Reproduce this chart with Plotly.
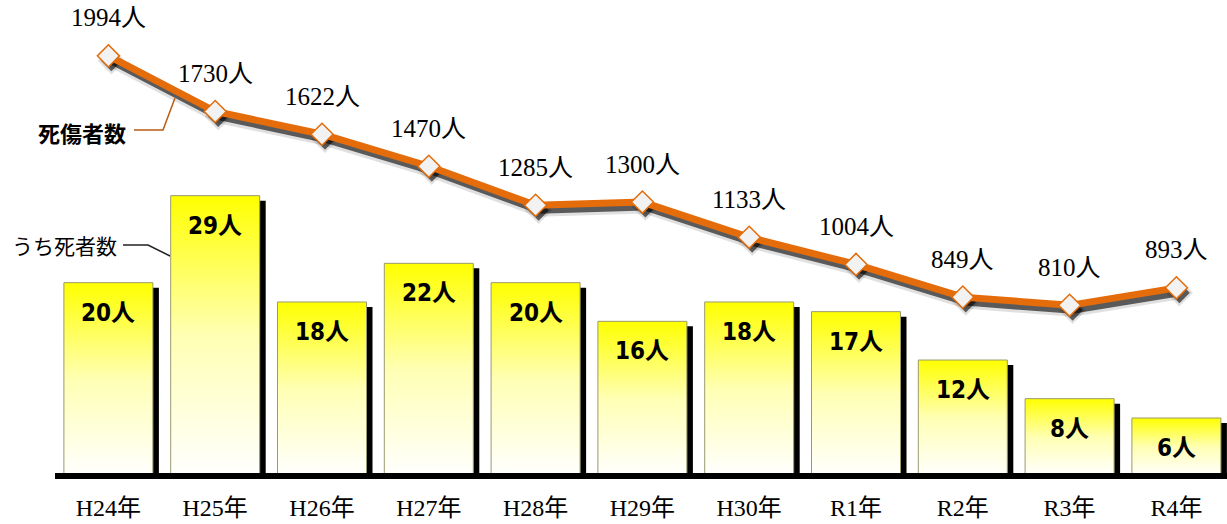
import plotly.graph_objects as go

# Data
years = ["H24年", "H25年", "H26年", "H27年", "H28年", "H29年", "H30年", "R1年", "R2年", "R3年", "R4年"]
casualties = [1994, 1730, 1622, 1470, 1285, 1300, 1133, 1004, 849, 810, 893]
deaths = [20, 29, 18, 22, 20, 16, 18, 17, 12, 8, 6]

# Layout geometry (pixels)
W, H = 1227, 524
M_L, M_R, M_T, M_B = 55, 0, 0, 51
PLOT_W = W - M_L - M_R
PLOT_H = H - M_T - M_B
BASE_DROP = 3          # baseline sits this many px below the plot bottom (under the axis line)
PX_PER_DEATH = 9.667   # primary axis scale
PX_PER_CAS = 0.2107    # secondary axis scale
PX_PER_CAT = 106.8

x_idx = list(range(len(years)))
x_range = [-0.5, -0.5 + PLOT_W / PX_PER_CAT]
y1_range = [BASE_DROP / PX_PER_DEATH, (PLOT_H + BASE_DROP) / PX_PER_DEATH]
y2_range = [BASE_DROP / PX_PER_CAS, (PLOT_H + BASE_DROP) / PX_PER_CAS]

BAR_W = 89 / PX_PER_CAT
SH_DX = 6 / PX_PER_CAT
SH_DY = 5 / PX_PER_DEATH

ORANGE = "#E46C0A"
SERIF = "Liberation Serif, Noto Sans CJK JP"
NARROW = "DejaVu Sans Condensed, Noto Sans CJK JP"
GOTHIC = "Noto Sans CJK JP"

fig = go.Figure()

# Bar shadows
for i, v in zip(x_idx, deaths):
    x0, x1 = i - BAR_W / 2 + SH_DX, i + BAR_W / 2 + SH_DX
    fig.add_trace(go.Scatter(
        x=[x0, x1, x1, x0, x0], y=[0, 0, v - SH_DY, v - SH_DY, 0],
        mode="lines", fill="toself", fillcolor="black",
        line=dict(width=0, color="black"), hoverinfo="skip", showlegend=False,
    ))

# Bars with a yellow-to-white vertical gradient
for i, v in zip(x_idx, deaths):
    x0, x1 = i - BAR_W / 2, i + BAR_W / 2
    fig.add_trace(go.Scatter(
        x=[x0, x1, x1, x0, x0], y=[0, 0, v, v, 0],
        mode="lines", fill="toself",
        fillgradient=dict(type="vertical",
                          colorscale=[[0, "#FFFFFF"], [0.5, "#FFFFB4"], [1, "#FFFF00"]]),
        line=dict(width=1, color="#9A9A70"), hoverinfo="skip", showlegend=False,
        name="うち死者数",
    ))

# Soft drop shadow under the line
sx = [i + 3 / PX_PER_CAT for i in x_idx]
sy = [v - 5 / PX_PER_CAS for v in casualties]
fig.add_trace(go.Scatter(
    x=sx, y=sy, yaxis="y2", mode="lines+markers",
    line=dict(color="rgba(0,0,0,0.12)", width=13),
    marker=dict(symbol="diamond", size=21, color="rgba(0,0,0,0.12)", line=dict(width=0)),
    hoverinfo="skip", showlegend=False,
))
fig.add_trace(go.Scatter(
    x=sx, y=sy, yaxis="y2", mode="lines+markers",
    line=dict(color="rgba(0,0,0,0.6)", width=7),
    marker=dict(symbol="diamond", size=16, color="rgba(0,0,0,0.6)", line=dict(width=0)),
    hoverinfo="skip", showlegend=False,
))

# Casualties line
fig.add_trace(go.Scatter(
    x=x_idx, y=casualties, yaxis="y2", mode="lines+markers",
    line=dict(color=ORANGE, width=7),
    marker=dict(symbol="diamond", size=17, color="#F2F2F2", line=dict(color=ORANGE, width=1.5)),
    name="死傷者数", showlegend=False,
))

annotations = []
for i, v in zip(x_idx, casualties):
    annotations.append(dict(
        x=i, y=v, xref="x", yref="y2", text=f"{v}人", showarrow=False,
        xanchor="center", yanchor="middle",
        yshift=38, font=dict(family=SERIF, size=25, color="black"),
    ))
for i, v in zip(x_idx, deaths):
    annotations.append(dict(
        x=i, y=v, xref="x", yref="y", text=f"<b>{v}人</b>", showarrow=False,
        xanchor="center", yanchor="middle",
        yshift=-30, font=dict(family=NARROW, size=24, color="black"),
    ))


def px_x(p):
    return (p - M_L) / PLOT_W


def px_y(p):
    return (H - M_B - p) / PLOT_H


# Series callouts
annotations.append(dict(
    x=px_x(82), y=px_y(132), xref="paper", yref="paper", text="<b>死傷者数</b>",
    xanchor="center", yanchor="middle",
    showarrow=False, font=dict(family=GOTHIC, size=22, color="black"),
))
annotations.append(dict(
    x=px_x(64), y=px_y(245), xref="paper", yref="paper", text="うち死者数",
    xanchor="center", yanchor="middle",
    showarrow=False, font=dict(family=GOTHIC, size=21, color="black"),
))

shapes = [
    dict(type="path", xref="paper", yref="paper",
         path=f"M {px_x(134)},{px_y(130)} L {px_x(163)},{px_y(130)} L {px_x(175)},{px_y(98)}",
         line=dict(color="#B85A10", width=1.5)),
    dict(type="path", xref="paper", yref="paper",
         path=f"M {px_x(123)},{px_y(245)} L {px_x(148)},{px_y(245)} L {px_x(170)},{px_y(256)}",
         line=dict(color="#222222", width=1.5)),
]

fig.update_layout(
    width=W, height=H,
    margin=dict(l=M_L, r=M_R, t=M_T, b=M_B, pad=0),
    paper_bgcolor="white", plot_bgcolor="white",
    showlegend=False,
    xaxis=dict(range=x_range, tickvals=x_idx, ticktext=years, showgrid=False, zeroline=False,
               showline=True, linecolor="black", linewidth=6, ticks="",
               automargin=False, ticklabelstandoff=8,
               tickfont=dict(family=SERIF, size=24, color="black")),
    yaxis=dict(range=y1_range, visible=False, showgrid=False, zeroline=False, automargin=False),
    yaxis2=dict(range=y2_range, overlaying="y", side="right", visible=False,
                showgrid=False, zeroline=False, automargin=False),
    annotations=annotations,
    shapes=shapes,
)

fig.write_html("out.html")
